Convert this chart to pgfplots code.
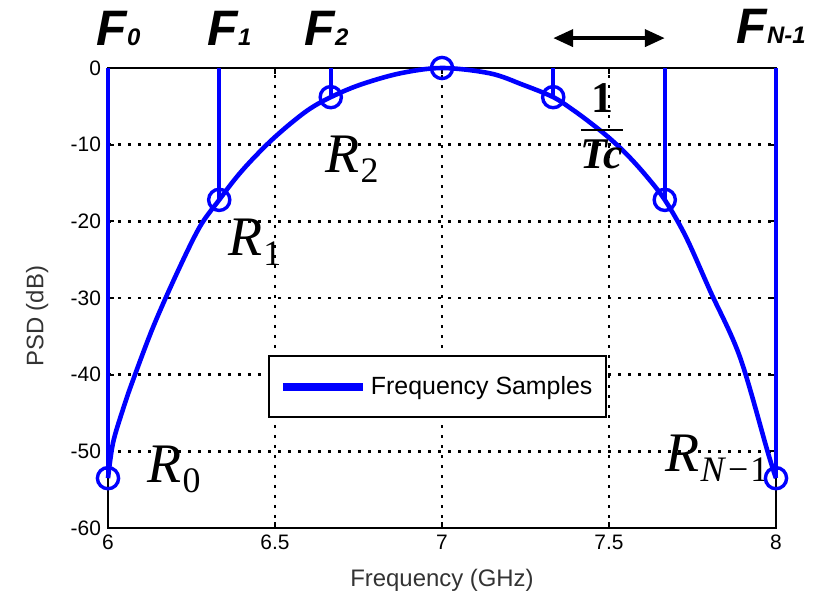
\documentclass[border=0pt]{standalone}
\usepackage{amsmath}
\usepackage{fontspec}
\setmainfont{Liberation Sans}
\newfontfamily\serif{Liberation Serif}
\usepackage{pgfplots}
\pgfplotsset{compat=1.18}
\usetikzlibrary{arrows.meta}

\definecolor{psdblue}{RGB}{0,0,255}

% R with a lowered upright subscript, Times-like
\newcommand{\Rlab}[1]{{\serif\fontsize{28}{30}\selectfont\textit{R}\kern0.5bp\raisebox{-5bp}{\fontsize{18}{20}\selectfont\upshape #1}}}

\begin{document}
\begin{tikzpicture}
% page frame, same proportions as the reference
\useasboundingbox (-54bp,-34bp) rectangle (357.5bp,264bp);
\begin{axis}[
  at={(0,0)}, anchor=south west,
  scale only axis, width=334bp, height=230bp,
  xmin=6, xmax=8, ymin=-60, ymax=0,
  xtick={6,6.5,7,7.5,8}, ytick={-60,-50,...,0},
  xticklabels={6,6.5,7,7.5,8},
  /pgf/number format/assume math mode=true,
  tick label style={font=\fontsize{10.5}{12}\selectfont},
  major tick length=3bp,
  axis line style={line width=1.1bp},
  every tick/.style={black, line width=0.9bp},
  grid=major,
  major grid style={black, line width=1.2bp, dash pattern=on 1.3bp off 3.7bp},
  xlabel={Frequency (GHz)},
  ylabel={PSD (dB)},
  label style={font=\fontsize{12}{14}\selectfont, text=black!80},
  xlabel style={at={(axis description cs:0.5,-0.113)}, anchor=center},
  ylabel style={at={(axis description cs:-0.106,0.46)}, anchor=center, rotate=0},
  clip=false,
  legend style={at={(0.2395,0.376)}, anchor=north west, draw=black, line width=1bp,
    font=\fontsize{12.5}{14}\selectfont, inner xsep=5bp, inner ysep=8bp,
    /tikz/every even column/.append style={column sep=2bp}},
  legend image code/.code={\draw[#1] (0bp,0bp) -- (40bp,0bp);},
]
% spectrum envelope
\addplot[psdblue, line width=2.3bp, smooth, tension=0.55, forget plot] coordinates {
  (6,-53.5) (6.015,-48.9) (6.045,-44.5) (6.075,-40.7) (6.135,-33.8) (6.207,-26.7)
  (6.275,-20.7) (6.333,-17.2) (6.38,-14.5) (6.425,-12.25) (6.485,-9.6) (6.545,-7.3)
  (6.605,-5.3) (6.667,-3.8) (6.754,-2.2)
  (6.874,-0.7) (7,0) (7.144,-0.7) (7.243,-2.2) (7.333,-3.8) (7.39,-5.4) (7.443,-7.1)
  (7.5,-9.1) (7.554,-11.3) (7.61,-14.0) (7.667,-17.2) (7.73,-22.0) (7.802,-29.0) (7.892,-37.7)
  (7.976,-50.2) (8,-53.5)};
% frequency samples: stems and circles
\addplot[ycomb, psdblue, line width=2.2bp, mark=none, forget plot] coordinates {
  (6,-53.5) (6.333,-17.2) (6.667,-3.8) (7,0) (7.333,-3.8) (7.667,-17.2) (8,-53.5)};
\addplot[only marks, psdblue, mark=o, mark size=5.3bp, mark options={line width=1.7bp}, forget plot] coordinates {
  (6,-53.5) (6.333,-17.2) (6.667,-3.8) (7,0) (7.333,-3.8) (7.667,-17.2) (8,-53.5)};
\addlegendimage{psdblue, line width=4bp}
\addlegendentry{Frequency Samples}

% sample labels above the axis
\node[anchor=base west, inner sep=0pt, font=\bfseries\itshape] at (axis cs:5.965,3.0)
  {{\fontsize{25}{27}\selectfont F}{\fontsize{12}{13}\selectfont 0}};
\node[anchor=base west, inner sep=0pt, font=\bfseries\itshape] at (axis cs:6.297,3.0)
  {{\fontsize{25}{27}\selectfont F}{\fontsize{12}{13}\selectfont 1}};
\node[anchor=base west, inner sep=0pt, font=\bfseries\itshape] at (axis cs:6.588,3.0)
  {{\fontsize{25}{27}\selectfont F}{\fontsize{12}{13}\selectfont 2}};
\node[anchor=base west, inner sep=0pt, font=\bfseries\itshape] at (axis cs:7.881,3.2)
  {{\fontsize{25}{27}\selectfont F}{\fontsize{12}{13}\selectfont N-1}};

% sample spacing
\draw[{Triangle[length=10bp,width=8.5bp]}-{Triangle[length=10bp,width=8.5bp]}, line width=2bp]
  (axis cs:7.333,3.9) -- (axis cs:7.667,3.9);
\node[inner sep=0pt, font=\fontsize{22}{26}\selectfont] at (axis cs:7.479,-7.6)
  {$\dfrac{\text{\serif\bfseries 1}}{\text{\serif\bfseries\itshape Tc}}$};

% received sample labels
\node[anchor=base west, inner sep=0pt] at (axis cs:6.117,-54.1) {\Rlab{0}};
\node[anchor=base west, inner sep=0pt] at (axis cs:6.359,-24.4) {\Rlab{1}};
\node[anchor=base west, inner sep=0pt] at (axis cs:6.650,-13.6) {\Rlab{2}};
\node[anchor=base west, inner sep=0pt] at (axis cs:7.668,-52.6) {\Rlab{\textit{N}\kern1bp\textminus\kern1bp1}};
\end{axis}
\end{tikzpicture}
\end{document}
